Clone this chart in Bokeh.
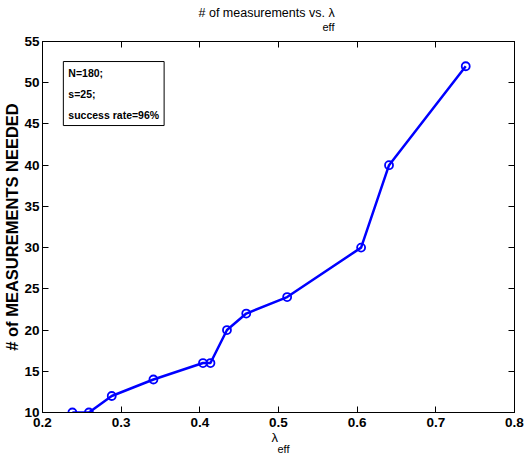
from bokeh.plotting import figure
from bokeh.models import Range1d, Label, LinearAxis, FixedTicker, Title
from bokeh.embed import file_html
from bokeh.resources import INLINE

lam_eff = [0.238, 0.259, 0.288, 0.341, 0.404, 0.4135, 0.4345, 0.459, 0.511, 0.605, 0.6405, 0.738]
n_meas = [10, 10, 12, 14, 16, 16, 20, 22, 24, 30, 40, 52]
x_ticks = [0.2, 0.3, 0.4, 0.5, 0.6, 0.7, 0.8]
y_ticks = [10, 15, 20, 25, 30, 35, 40, 45, 50, 55]
title_main = "# of measurements  vs. λ"
sub_eff = "eff"
xlabel_main = "λ"
ylabel = "# of MEASUREMENTS NEEDED"
box_text = "N=180;\ns=25;\nsuccess rate=96%"

TF = "Liberation Sans"

p = figure(width=524, height=455, output_backend="svg", toolbar_location=None,
           x_range=Range1d(0.2, 0.8), y_range=Range1d(10, 55),
           min_border_left=39, min_border_right=10, min_border_top=41, min_border_bottom=43)
p.title.visible = False
p.xgrid.visible = False
p.ygrid.visible = False
p.outline_line_color = "black"
p.outline_line_width = 1
p.background_fill_color = "white"
p.border_fill_color = "white"

for ax, t in ((p.xaxis[0], x_ticks), (p.yaxis[0], y_ticks)):
    ax.ticker = FixedTicker(ticks=t)
    ax.major_tick_in = 6
    ax.major_tick_out = 0
    ax.minor_tick_line_color = None
    ax.axis_line_color = "black"
    ax.major_tick_line_color = "black"
    ax.major_label_text_font = TF
    ax.major_label_text_font_style = "bold"
    ax.major_label_text_font_size = "13.5px"
    ax.major_label_text_color = "black"
p.xaxis.major_label_standoff = 5
p.yaxis.major_label_standoff = 3

# mirrored ticks (MATLAB box)
top = LinearAxis(ticker=FixedTicker(ticks=x_ticks), major_tick_in=6, major_tick_out=0,
                 minor_tick_line_color=None, major_label_text_font_size="0px",
                 major_label_standoff=0, axis_line_color="black")
right = LinearAxis(ticker=FixedTicker(ticks=y_ticks), major_tick_in=6, major_tick_out=0,
                   minor_tick_line_color=None, major_label_text_font_size="0px",
                   major_label_standoff=0, axis_line_color="black")
p.add_layout(top, "above")
p.add_layout(right, "right")

p.line(lam_eff, n_meas, line_color="#0000ff", line_width=2.5)
p.scatter(lam_eff, n_meas, marker="circle", size=8, line_color="#0000ff",
          line_width=1.8, fill_color=None)

# title (main + subscript) as stacked titles
p.add_layout(Title(text=sub_eff, align="left", offset=280, standoff=13,
                   vertical_align="top",
                   text_font=TF, text_font_style="normal", text_font_size="11px",
                   text_color="black"), "above")
p.add_layout(Title(text=title_main, align="left", offset=156, standoff=-14,
                   vertical_align="top",
                   text_font=TF, text_font_style="normal", text_font_size="12.5px",
                   text_color="black"), "above")
# x label
p.add_layout(Title(text=xlabel_main, align="left", offset=229, standoff=-4,
                   text_font=TF, text_font_style="normal", text_font_size="13px",
                   text_color="black"), "below")
p.add_layout(Title(text=sub_eff, align="left", offset=235, standoff=-4,
                   text_font=TF, text_font_style="normal", text_font_size="11px",
                   text_color="black"), "below")
# y label
p.add_layout(Title(text=ylabel, align="center", offset=0, standoff=1,
                   text_font=TF, text_font_style="bold", text_font_size="16.5px",
                   text_color="black"), "left")
# info box
p.add_layout(Label(x=0.2265, y=52.57, text=box_text, text_align="left",
                   text_baseline="top", text_font=TF, text_font_style="bold",
                   text_font_size="10.5px", text_line_height=1.75, text_color="black",
                   border_line_color="black", border_line_width=1,
                   background_fill_color="white", padding=5))

open("out.html", "w").write(file_html(p, INLINE))
